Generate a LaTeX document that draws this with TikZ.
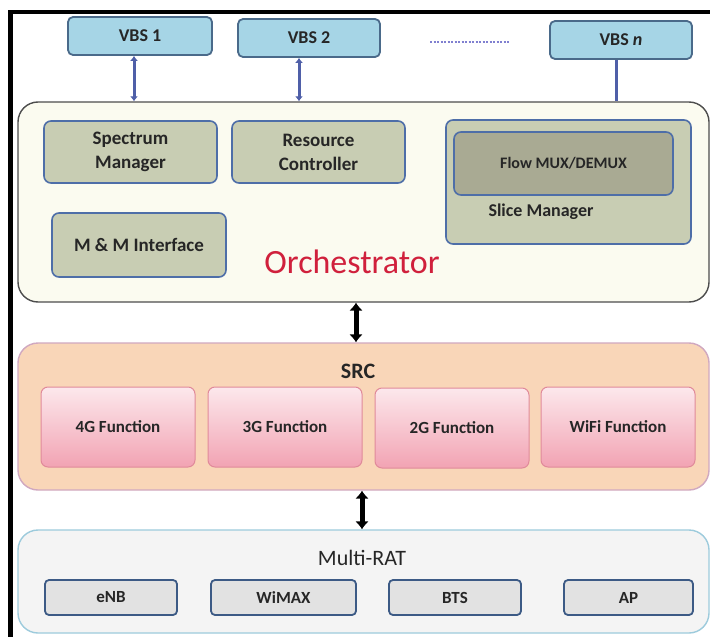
\documentclass[tikz,border=0pt]{standalone}
\usepackage{fontspec}
\setmainfont{Carlito}
\usetikzlibrary{arrows.meta}
\definecolor{vbsfill}{HTML}{A6D5E6}
\definecolor{vbsdraw}{HTML}{4A6A8A}
\definecolor{orchfill}{HTML}{FBFBF0}
\definecolor{orchdraw}{HTML}{4D4D4D}
\definecolor{greenfill}{HTML}{C8CDB3}
\definecolor{bluedraw}{HTML}{4E6EA8}
\definecolor{flowfill}{HTML}{A9AA93}
\definecolor{srcfill}{HTML}{F9D6B8}
\definecolor{srcdraw}{HTML}{D0A8C0}
\definecolor{functop}{HTML}{FCE8EC}
\definecolor{funcbot}{HTML}{F2A3B3}
\definecolor{funcdraw}{HTML}{E08A9A}
\definecolor{mrfill}{HTML}{F4F4F4}
\definecolor{mrdraw}{HTML}{9DCBDC}
\definecolor{ratfill}{HTML}{E2E2E2}
\definecolor{ratdraw}{HTML}{3C5A85}
\definecolor{orchtext}{HTML}{D0203C}
\definecolor{arrowblue}{HTML}{4F5FA8}
\definecolor{dotcol}{HTML}{8080D0}
\definecolor{labeltext}{HTML}{262626}
\begin{document}
\begin{tikzpicture}[x=1pt,y=-1pt,
  every node/.style={text=labeltext},
  vbsbox/.style={draw=vbsdraw,fill=vbsfill,line width=1.8pt,rounded corners=5pt,font=\bfseries\fontsize{18}{20}\selectfont,inner sep=0pt},
  layerbox/.style={rounded corners=20pt,line width=1.4pt,inner sep=0pt},
  greenbox/.style={draw=bluedraw,fill=greenfill,line width=1.6pt,rounded corners=7pt,inner sep=0pt,align=center,font=\bfseries\fontsize{19}{24}\selectfont},
  funcbox/.style={draw=funcdraw,top color=functop,bottom color=funcbot,line width=1pt,rounded corners=7pt,inner sep=0pt,minimum width=154pt,minimum height=80pt,font=\bfseries\fontsize{17}{19}\selectfont},
  ratbox/.style={draw=ratdraw,fill=ratfill,line width=1.8pt,rounded corners=4pt,inner sep=0pt,minimum height=35pt,font=\bfseries\fontsize{17}{19}\selectfont},
  vbsarrow/.style={draw=arrowblue,line width=3pt,{Latex[length=5pt,width=8pt]}-{Latex[length=5pt,width=8pt]}},
  bigarrow/.style={draw=black,line width=5pt,{Latex[length=8pt,width=14pt]}-{Latex[length=8pt,width=14pt]}}
]
\useasboundingbox[fill=white] (0,0) rectangle (710,637);
% frame
\draw[line width=4.5pt,black] (10.5,637) -- (10.5,12) -- (710,12);

% VBS boxes
\node[vbsbox,minimum width=144pt,minimum height=38pt] (vbs1) at (140,36) {VBS 1};
\node[vbsbox,minimum width=142pt,minimum height=38pt] (vbs2) at (309,38) {VBS 2};
\node[vbsbox,minimum width=142pt,minimum height=38pt] (vbsn) at (621,40) {VBS \textit{n}};
\coordinate (dotsL) at (430,42);
\coordinate (dotsR) at (509,42);
\draw[dotcol,line width=1.2pt,dash pattern=on 2pt off 1.5pt] (dotsL) -- (dotsR);

% Orchestrator
\node[layerbox,draw=orchdraw,fill=orchfill,minimum width=691pt,minimum height=200pt] (orch) at (363.5,202) {};
\node[greenbox,minimum width=173pt,minimum height=62pt] (spec) at (130.5,152) {Spectrum\\Manager};
\node[greenbox,minimum width=173pt,minimum height=62pt] (res) at (318.5,152) {Resource\\Controller};
\node[greenbox,minimum width=245pt,minimum height=124pt] (slice) at (568.5,182) {};
\node[greenbox,fill=flowfill,minimum width=219pt,minimum height=63pt,font=\bfseries\fontsize{16}{18}\selectfont] (flow) at (563.5,163.5) {Flow MUX/DEMUX};
\node[font=\bfseries\fontsize{18}{20}\selectfont,inner sep=0pt] (slicelbl) at (541,212) {Slice Manager};
\node[greenbox,minimum width=174pt,minimum height=64pt,font=\bfseries\fontsize{19}{21}\selectfont] (mm) at (139,245) {M \& M Interface};
\node[text=orchtext,font=\fontsize{34}{38}\selectfont,inner sep=0pt] (orchlbl) at (352,262) {Orchestrator};

\draw[vbsarrow] ([xshift=-6pt]vbs1.south) -- ([xshift=-6pt]vbs1.south |- orch.north);
\draw[vbsarrow] ([xshift=-10pt]vbs2.south) -- ([xshift=-10pt]vbs2.south |- orch.north);
\draw[draw=arrowblue,line width=3pt] ([xshift=-5pt]vbsn.south) -- ([xshift=-5pt]vbsn.south |- orch.north);

% SRC
\node[layerbox,draw=srcdraw,fill=srcfill,minimum width=691pt,minimum height=147pt] (src) at (363.5,416.5) {};
\node[font=\bfseries\fontsize{22}{24}\selectfont,inner sep=0pt] (srclbl) at (358,371) {SRC};
\node[funcbox] (f4g) at (118,427) {4G Function};
\node[funcbox] (f3g) at (285,427) {3G Function};
\node[funcbox] (f2g) at (452,428) {2G Function};
\node[funcbox] (fwifi) at (618,427) {WiFi Function};

\draw[bigarrow] (orch.south -| 356,0) -- (src.north -| 356,0);

% Multi-RAT
\node[layerbox,draw=mrdraw,fill=mrfill,minimum width=691pt,minimum height=103pt] (mr) at (363.5,581.5) {};
\node[font=\fontsize{22}{24}\selectfont,inner sep=0pt] (mrlbl) at (362,558) {Multi-RAT};
\node[ratbox,minimum width=132pt] (enb) at (111,597.5) {eNB};
\node[ratbox,minimum width=145pt] (wimax) at (283.5,597.5) {WiMAX};
\node[ratbox,minimum width=132pt] (bts) at (455,597.5) {BTS};
\node[ratbox,minimum width=129pt] (ap) at (628.5,597.5) {AP};

\draw[bigarrow] (src.south -| 362,0) -- (mr.north -| 362,0);
\end{tikzpicture}
\end{document}
